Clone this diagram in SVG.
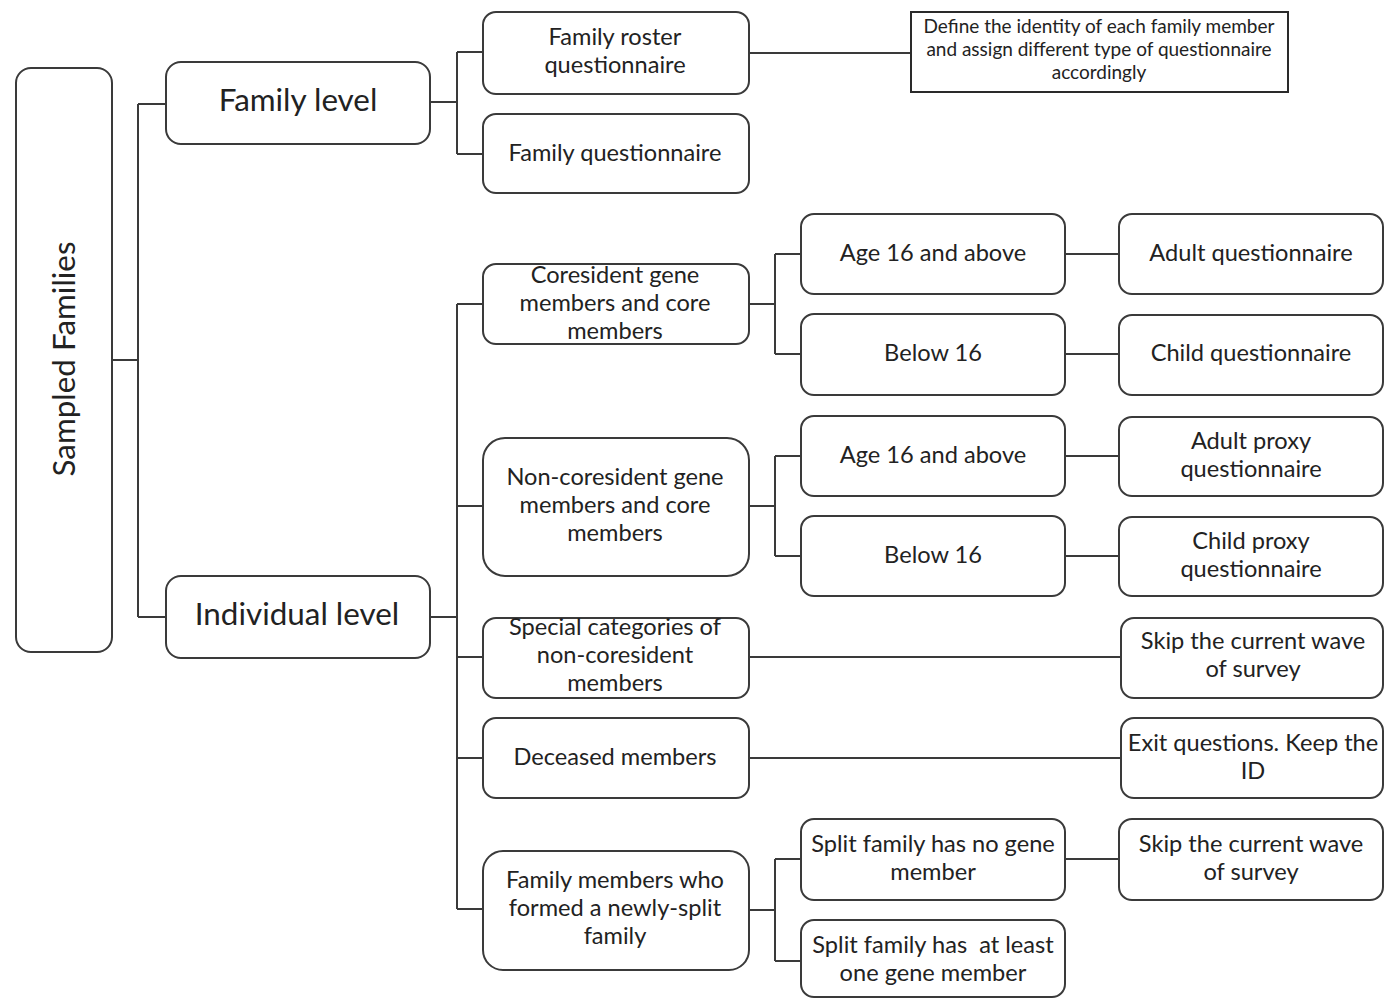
<svg xmlns="http://www.w3.org/2000/svg" width="1384" height="998" viewBox="0 0 1384 998">
  <style>
    .box { fill: #ffffff; stroke: #3a3a3a; stroke-width: 2; }
    .note { fill: #ffffff; stroke: #2a2a2a; stroke-width: 2; }
    .wire { fill: none; stroke: #3a3a3a; stroke-width: 2; }
    text { font-family: Lato, "Liberation Sans", sans-serif; fill: #222; text-anchor: middle; dominant-baseline: central; }
    .t { font-size: 23.6px; }
    .big { font-size: 31.4px; }
    .small { font-size: 19px; }
  </style>
  <rect width="1384" height="998" fill="#ffffff"/>

  <!-- connectors -->
  <g id="connectors">
    <path class="wire" d="M112 360 H138 M138 104 V617 M138 104 H166 M138 617 H166"/>
    <path class="wire" d="M430 102 H457 M457 52 V154 M457 52 H483 M457 154 H483"/>
    <path class="wire" d="M749 53 H911"/>
    <path class="wire" d="M430 617 H457 M457 304 V909 M457 304 H483 M457 506 H483 M457 657 H483 M457 758 H483 M457 909 H483"/>
    <path class="wire" d="M749 304 H775 M775 254 V354 M775 254 H801 M775 354 H801"/>
    <path class="wire" d="M749 506 H775 M775 456 V556 M775 456 H801 M775 556 H801"/>
    <path class="wire" d="M1065 254 H1119 M1065 354 H1119 M1065 456 H1119 M1065 556 H1119"/>
    <path class="wire" d="M749 657 H1121 M749 758 H1121"/>
    <path class="wire" d="M749 910 H775 M775 859 V961 M775 859 H801 M775 961 H801 M1065 859 H1119"/>
  </g>

  <g id="sampled-families">
    <rect class="box" x="16" y="68" width="96" height="584" rx="15"/>
    <text class="big" transform="translate(63 359) rotate(-90)">Sampled Families</text>
  </g>

  <g id="family-level">
    <rect class="box" x="166" y="62" width="264" height="82" rx="15"/>
    <text class="big" x="298" y="99">Family level</text>
  </g>

  <g id="individual-level">
    <rect class="box" x="166" y="576" width="264" height="82" rx="15"/>
    <text class="big" x="297" y="613">Individual level</text>
  </g>

  <g id="family-roster">
    <rect class="box" x="483" y="12" width="266" height="82" rx="13"/>
    <text class="t" x="615" y="36">Family roster</text>
    <text class="t" x="615" y="64">questionnaire</text>
  </g>

  <g id="family-questionnaire">
    <rect class="box" x="483" y="114" width="266" height="79" rx="13"/>
    <text class="t" x="615" y="152">Family questionnaire</text>
  </g>

  <g id="roster-note">
    <rect class="note" x="911" y="12" width="377" height="80"/>
    <text class="small" x="1099" y="25">Define the identity of each family member</text>
    <text class="small" x="1099" y="48">and assign different type of questionnaire</text>
    <text class="small" x="1099" y="71">accordingly</text>
  </g>

  <g id="coresident">
    <rect class="box" x="483" y="264" width="266" height="80" rx="13"/>
    <text class="t" x="615" y="274">Coresident gene</text>
    <text class="t" x="615" y="302">members and core</text>
    <text class="t" x="615" y="330">members</text>
  </g>

  <g id="non-coresident">
    <rect class="box" x="483" y="438" width="266" height="138" rx="22"/>
    <text class="t" x="615" y="476">Non-coresident gene</text>
    <text class="t" x="615" y="504">members and core</text>
    <text class="t" x="615" y="532">members</text>
  </g>

  <g id="special-categories">
    <rect class="box" x="483" y="618" width="266" height="80" rx="13"/>
    <text class="t" x="615" y="626">Special categories of</text>
    <text class="t" x="615" y="654">non-coresident</text>
    <text class="t" x="615" y="682">members</text>
  </g>

  <g id="deceased">
    <rect class="box" x="483" y="718" width="266" height="80" rx="13"/>
    <text class="t" x="615" y="756">Deceased members</text>
  </g>

  <g id="newly-split">
    <rect class="box" x="483" y="851" width="266" height="119" rx="20"/>
    <text class="t" x="615" y="879">Family members who</text>
    <text class="t" x="615" y="907">formed a newly-split</text>
    <text class="t" x="615" y="935">family</text>
  </g>

  <g id="coresident-adult">
    <rect class="box" x="801" y="214" width="264" height="80" rx="13"/>
    <text class="t" x="933" y="252">Age 16 and above</text>
  </g>

  <g id="coresident-child">
    <rect class="box" x="801" y="314" width="264" height="81" rx="13"/>
    <text class="t" x="933" y="352">Below 16</text>
  </g>

  <g id="noncoresident-adult">
    <rect class="box" x="801" y="416" width="264" height="80" rx="13"/>
    <text class="t" x="933" y="454">Age 16 and above</text>
  </g>

  <g id="noncoresident-child">
    <rect class="box" x="801" y="516" width="264" height="80" rx="13"/>
    <text class="t" x="933" y="554">Below 16</text>
  </g>

  <g id="adult-questionnaire">
    <rect class="box" x="1119" y="214" width="264" height="80" rx="13"/>
    <text class="t" x="1251" y="252">Adult questionnaire</text>
  </g>

  <g id="child-questionnaire">
    <rect class="box" x="1119" y="315" width="264" height="80" rx="13"/>
    <text class="t" x="1251" y="352">Child questionnaire</text>
  </g>

  <g id="adult-proxy">
    <rect class="box" x="1119" y="417" width="264" height="79" rx="13"/>
    <text class="t" x="1251" y="440">Adult proxy</text>
    <text class="t" x="1251" y="468">questionnaire</text>
  </g>

  <g id="child-proxy">
    <rect class="box" x="1119" y="517" width="264" height="79" rx="13"/>
    <text class="t" x="1251" y="540">Child proxy</text>
    <text class="t" x="1251" y="568">questionnaire</text>
  </g>

  <g id="skip-special">
    <rect class="box" x="1121" y="618" width="262" height="80" rx="13"/>
    <text class="t" x="1253" y="640">Skip the current wave</text>
    <text class="t" x="1253" y="668">of survey</text>
  </g>

  <g id="exit-questions">
    <rect class="box" x="1121" y="718" width="262" height="80" rx="13"/>
    <text class="t" x="1253" y="742">Exit questions. Keep the</text>
    <text class="t" x="1253" y="770">ID</text>
  </g>

  <g id="split-no-gene">
    <rect class="box" x="801" y="819" width="264" height="81" rx="13"/>
    <text class="t" x="933" y="843">Split family has no gene</text>
    <text class="t" x="933" y="871">member</text>
  </g>

  <g id="split-with-gene">
    <rect class="box" x="801" y="920" width="264" height="77" rx="13"/>
    <text class="t" x="933" y="944" xml:space="preserve">Split family has  at least</text>
    <text class="t" x="933" y="972">one gene member</text>
  </g>

  <g id="skip-split">
    <rect class="box" x="1119" y="819" width="264" height="81" rx="13"/>
    <text class="t" x="1251" y="843">Skip the current wave</text>
    <text class="t" x="1251" y="871">of survey</text>
  </g>
</svg>
